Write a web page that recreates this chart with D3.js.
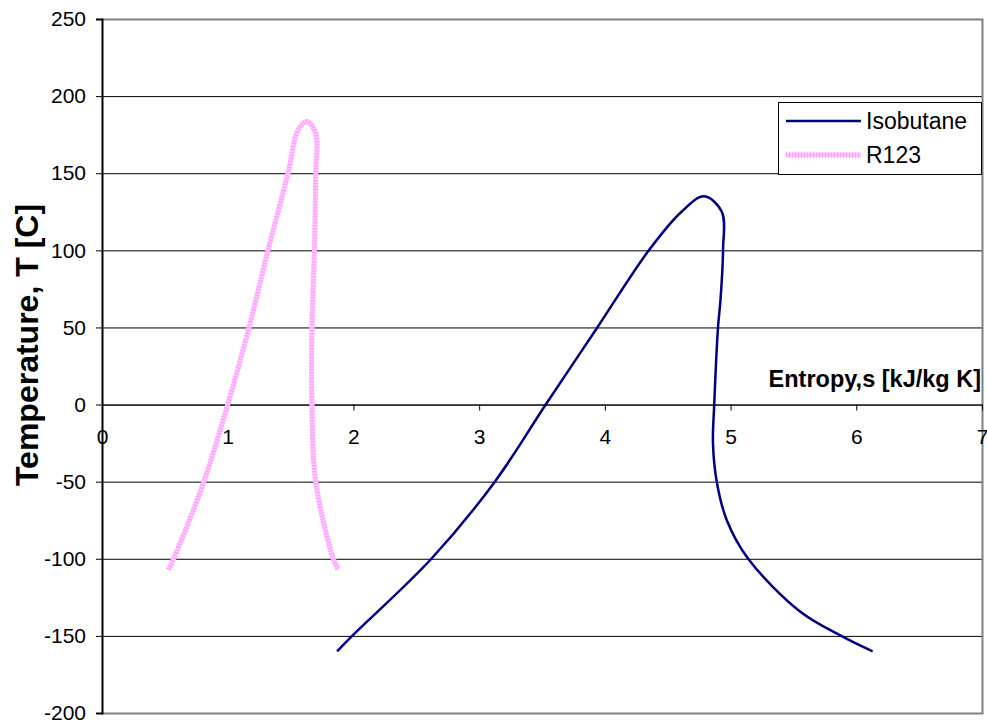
<!DOCTYPE html>
<html>
<head>
<meta charset="utf-8">
<script src="https://cdn.jsdelivr.net/npm/d3@7"></script>
<style>
  body { margin: 0; background: #fff; }
  text { font-family: "Liberation Sans", Arial, sans-serif; fill: #000; }
</style>
</head>
<body>
<div id="chart"></div>
<script>
// values: entropy s [kJ/kg K], temperature T [C]
var isoS = [1.87, 1.99, 2.62, 3.125, 3.53, 3.94, 4.35, 4.61, 4.79, 4.93, 4.94, 4.92, 4.90, 4.87, 4.86, 4.89, 4.97, 5.14, 5.55, 5.88, 6.13];
var isoT = [-160, -150, -100, -50, 0, 50, 100, 125, 135, 125, 100, 68, 50, 0, -25, -50, -75, -100, -134, -150, -160];

var r123S = [0.53, 0.57, 0.81, 1.0, 1.17, 1.32, 1.48, 1.56, 1.63, 1.70, 1.70, 1.69, 1.67, 1.67, 1.70, 1.84, 1.88];
var r123T = [-107, -100, -50, 0, 50, 100, 150, 178, 183.5, 176, 150, 100, 50, 0, -50, -100, -107];

var seriesNames = ["Isobutane", "R123"];
var xTicks = [0, 1, 2, 3, 4, 5, 6, 7];
var yTicks = [250, 200, 150, 100, 50, 0, -50, -100, -150, -200];

const width = 987;
const height = 720;
const plotLeft = 102, plotTop = 19, plotRight = 982, plotBottom = 713;

var svg = d3.select("#chart").append("svg")
  .attr("width", width)
  .attr("height", height);

/* Scales */
var xScale = d3.scaleLinear().domain([0, 7]).range([plotLeft, plotRight]);
var yScale = d3.scaleLinear().domain([-200, 250]).range([plotBottom, plotTop]);

/* gridlines */
svg.append("g")
  .selectAll("line")
  .data(yTicks.filter(d => d != 250 && d != -200)).enter()
  .append("line")
  .attr("x1", plotLeft).attr("x2", plotRight)
  .attr("y1", d => yScale(d) + 0.5).attr("y2", d => yScale(d) + 0.5)
  .attr("stroke", "#000").attr("stroke-width", 1);

/* plot border, gray */
svg.append("path")
  .attr("d", `M${plotLeft},${plotTop + 0.5}H${plotRight + 0.5}V${plotBottom + 0.5}H${plotLeft}`)
  .attr("fill", "none")
  .attr("stroke", "#808080")
  .attr("stroke-width", 2);

/* y axis */
var yAxis = d3.axisLeft(yScale).tickValues(yTicks).tickSize(6).tickPadding(10)
  .tickFormat(d => String(d));
var yG = svg.append("g")
  .attr("transform", `translate(${plotLeft}, 0)`)
  .call(yAxis);
yG.select(".domain").attr("stroke", "#000").attr("stroke-width", 2);
yG.selectAll(".tick line").attr("stroke", "#000");
yG.selectAll("text").style("font-size", "21px").attr("fill", "#000");

/* x axis through T = 0 */
var xAxis = d3.axisBottom(xScale).tickValues(xTicks).tickSize(6).tickPadding(19).tickSizeOuter(0)
  .tickFormat(d3.format("d"));
var xG = svg.append("g")
  .attr("transform", `translate(0, ${yScale(0)})`)
  .call(xAxis);
xG.select(".domain").attr("stroke", "#000").attr("stroke-width", 1);
xG.selectAll(".tick line").attr("stroke", "#000");
xG.selectAll("text").style("font-size", "21px").attr("fill", "#000");

/* axis titles */
svg.append("text")
  .attr("x", 981).attr("y", 387)
  .attr("text-anchor", "end")
  .style("font-size", "23.5px").style("font-weight", "bold")
  .text("Entropy,s [kJ/kg K]");

svg.append("text")
  .attr("transform", "translate(38, 345) rotate(-90)")
  .attr("text-anchor", "middle")
  .style("font-size", "32px").style("font-weight", "bold")
  .text("Temperature, T [C]");

/* lines */
var line = d3.line()
  .x(d => xScale(d[0]))
  .y(d => yScale(d[1]))
  .curve(d3.curveCatmullRom.alpha(0.5));

var isoData = isoS.map((s, i) => [s, isoT[i]]);
var r123Data = r123S.map((s, i) => [s, r123T[i]]);

var lines = svg.append("g").attr("class", "lines");

lines.append("path")
  .attr("d", line(r123Data))
  .attr("fill", "none")
  .attr("stroke", "#ffc4ff")
  .attr("stroke-width", 5);
lines.append("path")
  .attr("d", line(r123Data))
  .attr("fill", "none")
  .attr("stroke", "#ff99ff")
  .attr("stroke-width", 5)
  .attr("stroke-dasharray", "1,2");

lines.append("path")
  .attr("d", line(isoData))
  .attr("fill", "none")
  .attr("stroke", "#000080")
  .attr("stroke-width", 2.5);

/* legend */
var legend = svg.append("g").attr("class", "legend");
legend.append("rect")
  .attr("x", 778.5).attr("y", 102.5)
  .attr("width", 203).attr("height", 72)
  .attr("fill", "#fff")
  .attr("stroke", "#000").attr("stroke-width", 1);

var legY = [121, 155];
legend.append("line")
  .attr("x1", 786).attr("x2", 861)
  .attr("y1", legY[0]).attr("y2", legY[0])
  .attr("stroke", "#000080").attr("stroke-width", 2.5);
legend.append("line")
  .attr("x1", 786).attr("x2", 861)
  .attr("y1", legY[1]).attr("y2", legY[1])
  .attr("stroke", "#ffc4ff").attr("stroke-width", 5);
legend.append("line")
  .attr("x1", 786).attr("x2", 861)
  .attr("y1", legY[1]).attr("y2", legY[1])
  .attr("stroke", "#ff99ff").attr("stroke-width", 5)
  .attr("stroke-dasharray", "1,2");

legend.selectAll("text.lab")
  .data(seriesNames).enter()
  .append("text")
  .attr("class", "lab")
  .attr("x", 866)
  .attr("y", (d, i) => legY[i] + 8)
  .style("font-size", "23px")
  .text(d => d);
</script>
</body>
</html>
